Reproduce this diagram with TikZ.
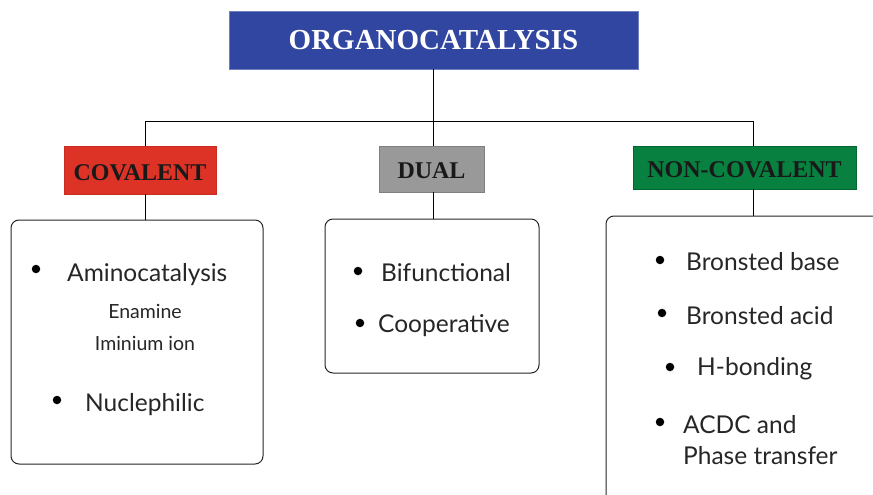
\documentclass[tikz,border=0pt]{standalone}
\usepackage{fontspec}
\setmainfont{Lato}
\newfontfamily\headfont{Liberation Serif}
\definecolor{titleblue}{RGB}{49,70,160}
\definecolor{covred}{RGB}{221,50,38}
\definecolor{dualgray}{RGB}{153,153,153}
\definecolor{ncgreen}{RGB}{8,128,64}
\begin{document}
\begin{tikzpicture}[x=1pt,y=-1pt,
  header/.style={rectangle, inner sep=0pt, font=\headfont\bfseries\fontsize{24}{28}\selectfont, text=black!90, text depth=0pt},
  listbox/.style={draw=black!85, line width=1pt, rounded corners=8pt, rectangle, inner sep=0pt},
  item/.style={anchor=west, inner sep=0pt, font=\fontsize{24.5}{28}\selectfont, text=black!85},
  subitem/.style={inner sep=0pt, font=\fontsize{19.5}{22}\selectfont, text=black!85},
  bul/.style={circle, fill=black, inner sep=0pt, minimum size=8.5pt},
  conn/.style={draw=black, line width=0.8pt}]
\useasboundingbox (0,0) rectangle (873,495);
\clip (0,0) rectangle (873,495);
% title
\node[rectangle, fill=titleblue, draw=titleblue!70, minimum width=409pt, minimum height=58pt, inner sep=0pt,
  font=\headfont\bfseries\fontsize{29}{32}\selectfont, text=white] (title) at (433.5,40) {ORGANOCATALYSIS};
% headers
\node[header, fill=covred, draw=covred!90!black, minimum width=152pt, minimum height=48pt, text height=21.5pt] (cov) at (140,170) {COVALENT};
\node[header, fill=dualgray, draw=black!50, minimum width=105pt, minimum height=46pt, text height=19pt] (dual) at (431.5,169) {DUAL};
\node[header, fill=ncgreen, draw=ncgreen!80!black, minimum width=223pt, minimum height=43pt, text height=19pt] (nc) at (744.5,167.5) {NON-COVALENT};
% list boxes
\node[listbox, minimum width=252pt, minimum height=244pt] (lb) at (137,342) {};
\node[listbox, minimum width=214pt, minimum height=154pt] (mb) at (432,296) {};
\node[listbox, minimum width=300pt, minimum height=310pt] (rb) at (756,371) {};
% connectors
\coordinate (jL) at (145,121);
\coordinate (jR) at (753,121);
\draw[conn] (title.south) -- (title.south |- jL);
\draw[conn] (jL) -- (jR);
\draw[conn] (jL) -- (jL |- cov.north);
\draw[conn] (jR) -- (jR |- nc.north);
\draw[conn] (dual.north -| title.south) -- (title.south |- jL);
\draw[conn] (jL |- cov.south) -- (jL |- lb.north);
\draw[conn] (dual.south -| title.south) -- (title.south |- mb.north);
\draw[conn] (jR |- nc.south) -- (jR |- rb.north);
% left items
\node[bul] (b1) at (36,269) {};
\node[item] (t1) at (67,275) {Aminocatalysis};
\node[subitem] (t1a) at (145,311) {Enamine};
\node[subitem] (t1b) at (145,343) {Iminium ion};
\node[bul] (b2) at (57,400) {};
\node[item] (t2) at (85,405) {Nuclephilic};
% middle items
\node[bul] (b3) at (358,271) {};
\node[item] (t3) at (381,273) {Bifunctional};
\node[bul] (b4) at (360,323) {};
\node[item] (t4) at (378,326) {Cooperative};
% right items
\node[bul] (b5) at (660,260) {};
\node[item] (t5) at (686,262) {Bronsted base};
\node[bul] (b6) at (662,313) {};
\node[item] (t6) at (686,316) {Bronsted acid};
\node[bul] (b7) at (670,367) {};
\node[item] (t7) at (697,369) {H-bonding};
\node[bul] (b8) at (660,422) {};
\node[item, align=left, font=\fontsize{24.5}{31}\selectfont] (t8) at (683,440) {ACDC and\\Phase transfer};
\end{tikzpicture}
\end{document}
